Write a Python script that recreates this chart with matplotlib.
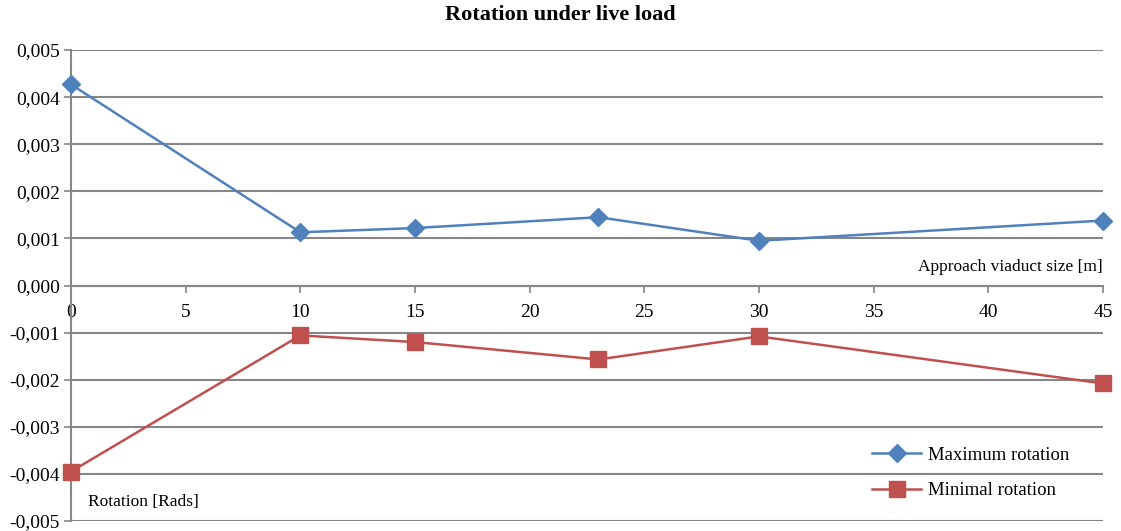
import matplotlib
matplotlib.use("Agg")
import matplotlib.pyplot as plt
from matplotlib.ticker import FuncFormatter

# data
span = [0, 10, 15, 23, 30, 45]
max_rot = [0.00427, 0.00113, 0.00122, 0.00145, 0.00095, 0.00138]
min_rot = [-0.00395, -0.00106, -0.00120, -0.00157, -0.00108, -0.00208]
x_ticks = [0, 5, 10, 15, 20, 25, 30, 35, 40, 45]
y_ticks = [-0.005, -0.004, -0.003, -0.002, -0.001, 0.0, 0.001, 0.002, 0.003, 0.004, 0.005]

plt.rcParams["font.family"] = ["Liberation Serif", "DejaVu Serif"]
grey = "#868686"

fig = plt.figure(figsize=(11.21, 5.31), dpi=100)
ax = fig.add_axes([0.0633, 0.0188, 0.9207, 0.887])

ax.plot(span, max_rot, color="#4F81BD", lw=1.8, marker="D", ms=9.5,
        label="Maximum rotation", zorder=3, clip_on=False)
ax.plot(span, min_rot, color="#C0504D", lw=1.8, marker="s", ms=11,
        label="Minimal rotation", zorder=3, clip_on=False)

ax.set_xlim(0, 45)
ax.set_ylim(-0.005, 0.005)
ax.set_yticks(y_ticks)
ax.set_xticks(x_ticks)
ax.yaxis.set_major_formatter(FuncFormatter(lambda v, p: f"{v:.3f}".replace(".", ",").replace("-0,000", "0,000")))
ax.grid(axis="y", color=grey, lw=1.5)
ax.set_axisbelow(True)

for s in ["top", "right"]:
    ax.spines[s].set_visible(False)
ax.spines["left"].set_color(grey)
ax.spines["left"].set_linewidth(1.5)
ax.spines["bottom"].set_position(("data", 0))
ax.spines["bottom"].set_color(grey)
ax.spines["bottom"].set_linewidth(1.5)

ax.tick_params(axis="y", length=5, color=grey, width=1.2, labelsize=14, pad=3)
ax.tick_params(axis="x", length=5, color=grey, width=1.2, labelsize=14, pad=8)

ax.text(45, 0.00022, "Approach viaduct size [m]", ha="right", va="bottom", fontsize=12.5)
ax.text(0.75, -0.0046, "Rotation [Rads]", ha="left", va="center", fontsize=12.5)

ax.legend(loc="lower right", bbox_to_anchor=(0.975, 0.03), frameon=False,
          fontsize=13.5, handlelength=2.6, handletextpad=0.4,
          labelspacing=1.0, borderaxespad=0)

fig.suptitle("Rotation under live load", y=0.99, fontsize=16, fontweight="bold")

fig.savefig("out.png", dpi=100)
